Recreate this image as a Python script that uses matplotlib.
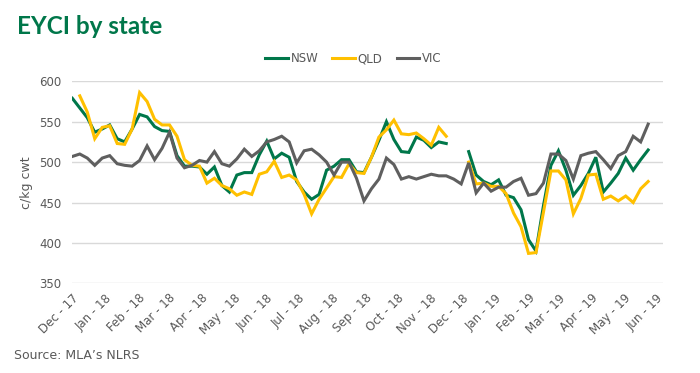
import numpy as np
import pandas as pd
import matplotlib
matplotlib.use("Agg")
import matplotlib.pyplot as plt

nan = np.nan
start_date = "2017-12-01"
n_weeks = 78

nsw = [579, 567, 555, 537, 541, 546, 529, 525, 541, 559, 556, 544, 539, 538, 508, 495, 495, 494, 485, 494,
       471, 463, 484, 487, 487, 509, 526, 504, 511, 506, 476, 463, 454, 460, 490, 495, 503, 503, 488, 487,
       506, 527, 550, 528, 513, 512, 531, 527, 518, 525, 523, nan, nan, 513, 484, 476, 472, 478, 459, 456,
       441, 404, 390, 446, 496, 514, 490, 459, 471, 486, 506, 463, 474, 486, 505, 490, 503, 515]
qld = [nan, 582, 562, 529, 543, 545, 523, 522, 541, 586, 575, 553, 546, 546, 532, 503, 496, 495, 474, 480,
       471, 467, 459, 463, 460, 485, 488, 501, 481, 484, 478, 460, 436, 454, 468, 482, 481, 498, 487, 486,
       506, 531, 540, 552, 535, 534, 536, 529, 521, 543, 532, nan, nan, 500, 473, 474, 470, 470, 461, 437,
       420, 387, 388, 438, 489, 489, 478, 436, 455, 484, 485, 454, 458, 452, 458, 450, 467, 476]
vic = [507, 510, 505, 496, 505, 508, 498, 496, 495, 502, 520, 503, 517, 537, 505, 493, 496, 502, 500, 513,
       498, 495, 504, 516, 507, 514, 525, 528, 532, 525, 499, 514, 516, 509, 500, 484, 500, 500, 480, 452,
       467, 479, 505, 497, 479, 482, 479, 482, 485, 483, 483, 479, 473, 499, 462, 474, 464, 469, 469, 476,
       480, 459, 461, 474, 510, 510, 502, 479, 508, 511, 513, 503, 492, 508, 513, 532, 525, 547]

series_names = ["NSW", "QLD", "VIC"]
series_colors = ["#00774A", "#FFC000", "#5F5F5F"]
y_ticks = [350, 400, 450, 500, 550, 600]
month_ticks = pd.date_range("2017-12-01", "2019-06-01", freq="MS")

dates = pd.date_range(start_date, periods=n_weeks, freq="7D")

fig = plt.figure(figsize=(7.0, 3.73), dpi=100)
ax = fig.add_axes([0.1033, 0.2405, 0.844, 0.5415])

for vals, name, col in zip([nsw, qld, vic], series_names, series_colors):
    ax.plot(dates, np.array(vals, dtype=float), color=col, lw=2.2, label=name,
            solid_joinstyle="miter")

ax.set_ylim(350, 600)
ax.set_yticks(y_ticks)
ax.set_xlim(pd.Timestamp("2017-12-01"), pd.Timestamp("2019-06-07"))
ax.set_xticks(month_ticks)
ax.set_xticklabels([d.strftime("%b - %y") for d in month_ticks], rotation=45,
                   ha="right", va="top", rotation_mode="anchor")
ax.grid(axis="y", color="#D9D9D9", lw=1.0)
ax.set_axisbelow(True)
for s in ax.spines.values():
    s.set_visible(False)
ax.tick_params(axis="both", length=0, colors="#595959", labelsize=8.5)
ax.tick_params(axis="x", pad=6)
ax.tick_params(axis="y", pad=8)
ax.set_ylabel("c/kg cwt", color="#595959", fontsize=9, labelpad=4)

leg = fig.legend(loc="center", bbox_to_anchor=(0.505, 0.842), ncol=3, frameon=False,
                 fontsize=8.5, handlelength=1.9, columnspacing=1.2, handletextpad=0.25)
for t in leg.get_texts():
    t.set_color("#595959")

fig.text(0.024, 0.93, "EYCI by state", color="#00774A", fontsize=17.5, fontweight="bold",
         ha="left", va="center", family="Lato")
fig.text(0.02, 0.048, "Source: MLA\u2019s NLRS", color="#595959", fontsize=9, ha="left", va="center")

fig.savefig("out.png", dpi=100)
